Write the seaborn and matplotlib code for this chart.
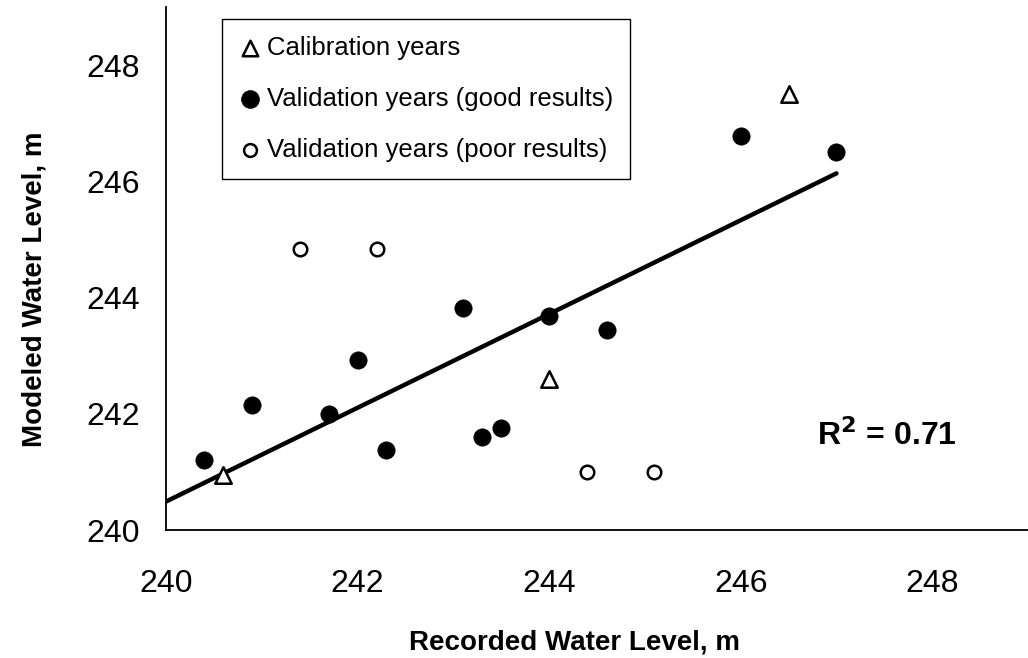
import matplotlib
matplotlib.use("Agg")
import matplotlib.pyplot as plt
import seaborn as sns

# Calibration years
calib_recorded = [240.6, 244.0, 246.5]
calib_modeled = [240.95, 242.6, 247.5]

# Validation years with good agreement
good_recorded = [240.4, 240.9, 241.7, 242.0, 242.3, 243.1, 243.3, 243.5, 244.0, 244.6, 246.0, 247.0]
good_modeled = [241.2, 242.15, 242.0, 242.92, 241.38, 243.82, 241.6, 241.75, 243.68, 243.45, 246.78, 246.5]

# Validation years with poor agreement
poor_recorded = [241.4, 242.2, 244.4, 245.1]
poor_modeled = [244.83, 244.83, 241.0, 241.0]

# Fitted trend line
fit_recorded = [240.0, 247.0]
fit_modeled = [240.49, 246.14]

r2_text = "R$^\\mathbf{2}$ = 0.71"

sns.set_theme(style="white")
plt.rcParams["font.family"] = ["Liberation Sans", "DejaVu Sans"]
plt.rcParams["text.color"] = "black"

fig = plt.figure(figsize=(10.28, 6.58), dpi=100)
ax = fig.add_axes([0.1615, 0.1945, 0.8385, 0.7945])

sns.lineplot(x=fit_recorded, y=fit_modeled, ax=ax, color="black", linewidth=3.2,
             legend=False)

sns.scatterplot(x=calib_recorded, y=calib_modeled, ax=ax, marker="^", s=140,
                facecolor="white", edgecolor="black", linewidth=1.8,
                label="Calibration years", zorder=3)
sns.scatterplot(x=good_recorded, y=good_modeled, ax=ax, marker="o", s=155,
                color="black", edgecolor="black", linewidth=0.5,
                label="Validation years (good results)", zorder=3)
sns.scatterplot(x=poor_recorded, y=poor_modeled, ax=ax, marker="o", s=95,
                facecolor="white", edgecolor="black", linewidth=1.8,
                label="Validation years (poor results)", zorder=3)

ax.set_xlim(240, 249)
ax.set_ylim(240, 249)
ax.set_xticks([240, 242, 244, 246, 248])
ax.set_yticks([240, 242, 244, 246, 248])

for side in ["top", "right"]:
    ax.spines[side].set_visible(False)
for side in ["left", "bottom"]:
    ax.spines[side].set_color("black")
    ax.spines[side].set_linewidth(1.3)

ax.tick_params(axis="both", direction="out", length=8, width=1.0, color="black",
               labelsize=23, labelcolor="black")
ax.tick_params(axis="x", pad=20)
ax.tick_params(axis="y", pad=11)

ax.set_xlabel("Recorded Water Level, m", fontsize=20, fontweight="bold", color="black")
ax.set_ylabel("Modeled Water Level, m", fontsize=20, fontweight="bold", color="black")
ax.xaxis.set_label_coords(0.474, -0.19)
ax.yaxis.set_label_coords(-0.137, 0.46)

ax.text(246.8, 241.62, r2_text, fontsize=23, fontweight="bold", va="center",
        ha="left", color="black")

leg = ax.legend(loc="upper left", bbox_to_anchor=(0.065, 0.977), borderaxespad=0,
                fontsize=18.5, frameon=True, fancybox=False, edgecolor="black",
                handlelength=0.9, handletextpad=0.2, labelspacing=1.05,
                borderpad=0.65, framealpha=1)
leg.get_frame().set_linewidth(1.0)
for h, sz in zip(leg.legend_handles, [125, 165, 85]):
    h.set_sizes([sz])
for t in leg.get_texts():
    t.set_color("black")

fig.savefig("out.png", dpi=100)
